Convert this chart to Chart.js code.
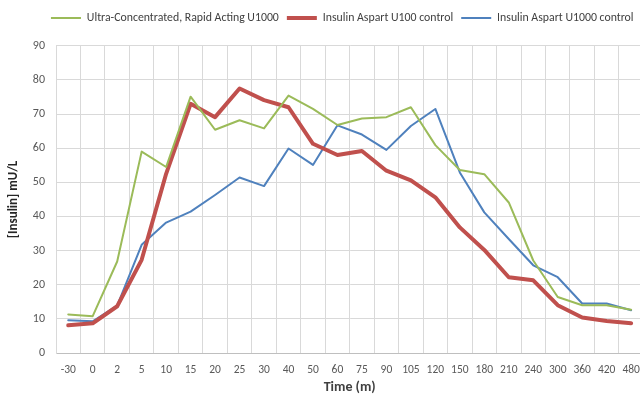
<!DOCTYPE html>
<html>
<head>
<meta charset="utf-8">
<script src="https://cdn.jsdelivr.net/npm/chart.js@4/dist/chart.umd.min.js"></script>
<style>
  html, body { margin: 0; padding: 0; background: #fff; overflow: hidden; }
  canvas { display: block; }
</style>
</head>
<body>
<canvas id="insulinChart" width="650" height="398"></canvas>
<script>
// datos
const timePoints = ['-30', '0', '2', '5', '10', '15', '20', '25', '30', '40', '50', '60',
  '75', '90', '105', '120', '150', '180', '210', '240', '300', '360', '420', '480'];

const ultraU1000 = [11.3, 10.8, 26.8, 59.0, 54.5, 75.1, 65.4, 68.2, 65.8, 75.4, 71.5, 66.8,
  68.7, 69.1, 72.0, 60.9, 53.6, 52.4, 44.1, 27.1, 16.4, 14.0, 14.0, 12.7];

const aspartU100 = [8.1, 8.7, 13.7, 27.3, 52.5, 73.0, 69.1, 77.5, 74.1, 72.0, 61.3, 58.0,
  59.2, 53.4, 50.6, 45.6, 36.8, 30.2, 22.2, 21.3, 14.0, 10.4, 9.4, 8.7];

const aspartU1000 = [9.6, 9.3, 13.9, 31.7, 38.2, 41.4, 46.3, 51.4, 48.9, 59.9, 55.1, 66.7,
  64.0, 59.5, 66.5, 71.5, 52.9, 41.2, 33.4, 25.7, 22.2, 14.5, 14.5, 12.5];

const yTicks = [0, 10, 20, 30, 40, 50, 60, 70, 80, 90];

const fontFamily = 'Carlito, Lato, "Liberation Sans", sans-serif';

// espacio extra debajo de la leyenda y leyenda algo corrida a la derecha
const legendTweak = {
  id: 'legendTweak',
  beforeInit(chart) {
    const origFit = chart.legend.fit;
    chart.legend.fit = function () {
      origFit.bind(chart.legend)();
      this.height += 12;
    };
  },
  afterLayout(chart) {
    chart.legend.left += 20;
    chart.legend.right += 20;
  }
};

const ctx = document.getElementById('insulinChart');

new Chart(ctx, {
  type: 'line',
  data: {
    labels: timePoints,
    datasets: [
      {
        label: 'Ultra-Concentrated, Rapid Acting U1000',
        data: ultraU1000,
        borderColor: '#9BBB59',
        borderWidth: 2
      },
      {
        label: 'Insulin Aspart U100 control',
        data: aspartU100,
        borderColor: '#C0504D',
        borderWidth: 4
      },
      {
        label: 'Insulin Aspart U1000 control',
        data: aspartU1000,
        borderColor: '#4F81BD',
        borderWidth: 2
      }
    ]
  },
  options: {
    responsive: false,
    animation: false,
    layout: { padding: { top: 4, right: 5.5, bottom: 0, left: 0 } },
    elements: {
      point: { radius: 0 },
      line: { tension: 0, borderJoinStyle: 'round', borderCapStyle: 'round' }
    },
    plugins: {
      legend: {
        position: 'top',
        labels: {
          usePointStyle: true,
          pointStyleWidth: 30,
          padding: 8,
          color: '#404040',
          font: { family: fontFamily, size: 11.8 },
          generateLabels: (chart) => chart.data.datasets.map((ds, i) => ({
            text: ds.label,
            fillStyle: ds.borderColor,
            strokeStyle: ds.borderColor,
            lineWidth: ds.borderWidth,
            pointStyle: 'line',
            hidden: false,
            datasetIndex: i,
            fontColor: '#404040'
          }))
        }
      },
      tooltip: { enabled: false }
    },
    scales: {
      x: {
        offset: true,
        grid: { offset: true, color: '#D9D9D9', drawTicks: false },
        border: { color: '#BFBFBF' },
        ticks: {
          padding: 10,
          color: '#595959',
          maxRotation: 0,
          autoSkip: false,
          font: { family: fontFamily, size: 11.5 }
        },
        title: {
          display: true,
          text: 'Time (m)',
          color: '#404040',
          padding: { top: 0, bottom: 2 },
          font: { family: fontFamily, size: 14, weight: 'bold' }
        },
        afterFit: (scale) => { scale.height = 45; }
      },
      y: {
        min: 0,
        max: 90,
        afterBuildTicks: (scale) => { scale.ticks = yTicks.map(v => ({ value: v })); },
        grid: { color: '#D9D9D9', drawTicks: false },
        border: { color: '#D9D9D9' },
        ticks: {
          padding: 11,
          color: '#595959',
          font: { family: fontFamily, size: 12 }
        },
        title: {
          display: true,
          text: '[Insulin] mU/L',
          color: '#262626',
          padding: { top: 6, bottom: 0 },
          font: { family: fontFamily, size: 13, weight: 'bold' }
        },
        afterFit: (scale) => { scale.width = 56; }
      }
    }
  },
  plugins: [legendTweak]
});
</script>
</body>
</html>
